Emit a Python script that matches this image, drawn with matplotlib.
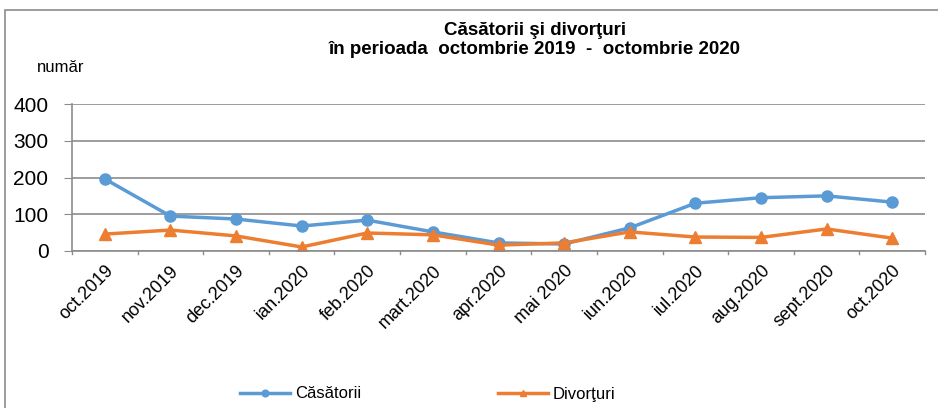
import matplotlib.pyplot as plt
from matplotlib.patches import Rectangle

# data
luni = ['oct.2019', 'nov.2019', 'dec.2019', 'ian.2020', 'feb.2020', 'mart.2020',
        'apr.2020', 'mai 2020', 'iun.2020', 'iul.2020', 'aug.2020', 'sept.2020', 'oct.2020']
casatorii = [196, 95, 87, 68, 84, 52, 22, 19, 63, 130, 145, 150, 133]
divorturi = [46, 57, 41, 11, 49, 44, 16, 22, 52, 38, 37, 60, 35]

plt.rcParams['font.family'] = ['Liberation Sans', 'DejaVu Sans']

fig = plt.figure(figsize=(9.38, 4.08), dpi=100)
# outer chart frame
fig.patches.append(Rectangle((5 / 938, -0.05), 1.0, 1 - 10 / 408 + 0.05,
                             transform=fig.transFigure, fill=False,
                             edgecolor='#8c8c8c', linewidth=1.2))

ax = fig.add_axes([72 / 938, 1 - 251 / 408, (925 - 72) / 938, (251 - 104) / 408])
x = range(len(luni))
ax.plot(x, casatorii, color='#5b9bd5', linewidth=2.5, marker='o', markersize=8,
        label='Căsătorii')
ax.plot(x, divorturi, color='#ed7d31', linewidth=2.5, marker='^', markersize=8,
        label='Divorţuri')

ax.set_ylim(0, 400)
ax.set_yticks([0, 100, 200, 300, 400])
ax.set_xlim(-0.5, len(luni) - 0.5)
ax.set_xticks(list(x))
ax.set_xticklabels(luni, rotation=45, ha='right', rotation_mode='anchor', fontsize=13)
ax.tick_params(axis='y', labelsize=15, length=6, color='#8c8c8c', pad=11)
ax.tick_params(axis='x', length=0, pad=8)
# category boundary ticks
for b in range(len(luni) + 1):
    ax.plot([b - 0.5, b - 0.5], [0, -8], color='#8c8c8c', linewidth=1,
            clip_on=False)
ax.grid(axis='y', color='#8c8c8c', linewidth=1.2)
ax.set_axisbelow(True)
for s in ['top', 'right']:
    ax.spines[s].set_visible(False)
ax.spines['left'].set_color('#8c8c8c')
ax.spines['bottom'].set_color('#8c8c8c')
ax.spines['left'].set_linewidth(1.2)
ax.spines['bottom'].set_linewidth(1.2)

fig.text(535 / 938, 1 - 40 / 408,
         'Căsătorii şi divorţuri\nîn perioada  octombrie 2019  -  octombrie 2020',
         ha='center', va='center', fontsize=13.5, fontweight='bold', linespacing=1.15)
fig.text(37 / 938, 1 - 68 / 408, 'număr', ha='left', va='center', fontsize=12)

fig.legend(loc='center left', bbox_to_anchor=(240 / 938, 1 - 394 / 408), ncol=2,
           frameon=False, fontsize=12, columnspacing=8.2, handlelength=3,
           handletextpad=0.3, borderpad=0, borderaxespad=0, markerscale=0.6)

fig.savefig('out.png', dpi=100)
